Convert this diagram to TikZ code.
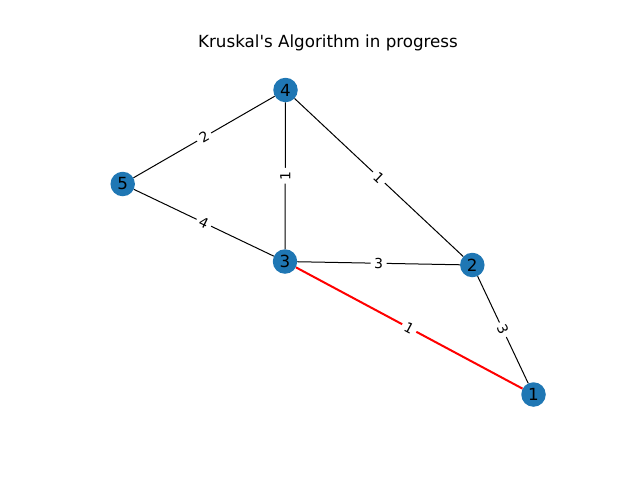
\documentclass[tikz,border=0pt]{standalone}
\usepackage{fontspec}
\setmainfont{DejaVu Sans}
\definecolor{nodeblue}{HTML}{1F77B4}
\begin{document}
\begin{tikzpicture}[x=1pt,y=-1pt,
  vertex/.style={circle,fill=nodeblue,minimum size=24.5pt,inner sep=0pt,font=\fontsize{16.7}{18}\selectfont},
  edge/.style={draw=black,line width=1pt},
  redge/.style={draw=red,line width=2pt},
  wlabel/.style={midway,sloped,fill=white,inner sep=3.5pt,font=\fontsize{13.9}{15}\selectfont}]
\useasboundingbox (0,0) rectangle (640,480);
\node[font=\fontsize{16.7}{18}\selectfont] (title) at (328,43) {Kruskal\textquotesingle s Algorithm in progress};
\node[vertex] (n4) at (285.5,90) {4};
\node[vertex] (n5) at (122.7,184) {5};
\node[vertex] (n3) at (285,261.5) {3};
\node[vertex] (n2) at (472.3,265) {2};
\node[vertex] (n1) at (533.5,394.5) {1};
\draw[edge] (n5) -- node[wlabel] {2} (n4);
\draw[edge] (n4) -- node[wlabel] {1} (n3);
\draw[edge] (n4) -- node[wlabel] {1} (n2);
\draw[edge] (n5) -- node[wlabel] {4} (n3);
\draw[edge] (n3) -- node[wlabel] {3} (n2);
\draw[edge] (n2) -- node[wlabel] {3} (n1);
\draw[redge] (n3) -- node[wlabel] {1} (n1);
\end{tikzpicture}
\end{document}
